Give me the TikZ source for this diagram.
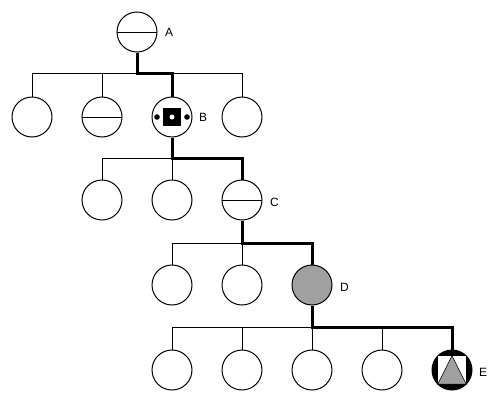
\documentclass[tikz,border=0pt]{standalone}
\usepackage{fontspec}
\setmainfont{Liberation Sans}
\definecolor{shade}{HTML}{A0A0A0}
\tikzset{
  member/.style={circle,draw,line width=1pt,minimum size=40pt,inner sep=0pt},
  split/.style={member,path picture={\draw[line width=1pt] (path picture bounding box.west) -- (path picture bounding box.east);}},
  tag/.style={right,inner sep=0pt,font=\fontsize{12}{14}\selectfont},
  branch/.style={line width=1pt},
  lineage/.style={line width=3pt},
}

\begin{document}
\begin{tikzpicture}[x=1pt,y=-1pt]
  \useasboundingbox (0,0) rectangle (498,402);
  % generation 0
  \node[split] (a) at (137,32) {};
  \node[tag] (la) at (165,32) {A};
  % generation 1
  \node[member] (p1) at (32,117) {};
  \node[split] (p2) at (102,117) {};
  \node[member] (b) at (172,117) {};
  \node[member] (p4) at (242,117) {};
  \node[tag] (lb) at (199,117) {B};
  \node[fill,minimum size=18pt,inner sep=0pt] (bsq) at (b) {};
  \fill[white] (bsq) circle (2.5);
  \fill ([xshift=-15pt]b.center) circle (2.8);
  \fill ([xshift=15pt]b.center) circle (2.8);
  % generation 2
  \node[member] (q1) at (102,200) {};
  \node[member] (q2) at (172,200) {};
  \node[split] (c) at (242,200) {};
  \node[tag] (lc) at (270,202) {C};
  % generation 3
  \node[member] (r1) at (172,285) {};
  \node[member] (r2) at (242,285) {};
  \node[member,fill=shade] (d) at (312,285) {};
  \node[tag] (ld) at (340,287) {D};
  % generation 4
  \node[member] (s1) at (172,370) {};
  \node[member] (s2) at (242,370) {};
  \node[member] (s3) at (312,370) {};
  \node[member] (s4) at (382,370) {};
  \node[member,fill=black] (e) at (452,370) {};
  \node[fill=white,minimum size=28pt,inner sep=0pt] (esq) at (e) {};
  \filldraw[fill=shade,draw=black,line width=0.6pt] (esq.north) -- (esq.south east) -- (esq.south west) -- cycle;
  \node[tag] (le) at (479,372) {E};

  % sibling bars
  \coordinate (bar1) at (0,73);
  \coordinate (bar2) at (0,158);
  \coordinate (bar3) at (0,243);
  \coordinate (bar4) at (0,327);
  \foreach \k in {p1,p2,b,p4} \draw[branch] (\k.north) -- (\k.north |- bar1);
  \draw[branch] (p1.north |- bar1) -- (p4.north |- bar1);
  \foreach \k in {q1,q2,c} \draw[branch] (\k.north) -- (\k.north |- bar2);
  \draw[branch] (q1.north |- bar2) -- (c.north |- bar2);
  \foreach \k in {r1,r2,d} \draw[branch] (\k.north) -- (\k.north |- bar3);
  \draw[branch] (r1.north |- bar3) -- (d.north |- bar3);
  \foreach \k in {s1,s2,s3,s4,e} \draw[branch] (\k.north) -- (\k.north |- bar4);
  \draw[branch] (s1.north |- bar4) -- (e.north |- bar4);

  % line of descent
  \draw[lineage] (a.south) -- (a.south |- bar1) -| (b.north);
  \draw[lineage] (b.south) -- (b.south |- bar2) -| (c.north);
  \draw[lineage] (c.south) -- (c.south |- bar3) -| (d.north);
  \draw[lineage] (d.south) -- (d.south |- bar4) -| (e.north);
\end{tikzpicture}
\end{document}
